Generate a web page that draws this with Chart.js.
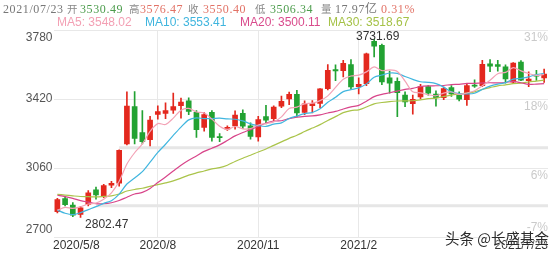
<!DOCTYPE html>
<html>
<head>
<meta charset="utf-8">
<script src="https://cdn.jsdelivr.net/npm/chart.js@4/dist/chart.umd.min.js"></script>
<style>
  body { margin: 0; background: #fff; }
  #wrap { position: relative; width: 554px; height: 254px; overflow: hidden; }
  #chart { position: absolute; left: 0; top: 0; }
  .t { position: absolute; white-space: nowrap; }
  .l1 { top: 1.5px; font-family: 'Liberation Serif', 'Noto Sans CJK SC', serif; font-size: 12px; line-height: 14px; color: #777; letter-spacing: 0.6px; }
  .l1.cn { font-family: 'Noto Sans CJK SC', sans-serif; font-size: 10.5px; letter-spacing: 0; top: 2px; color: #888; }
  .l2 { top: 15px; font-family: 'Liberation Sans', Arial, sans-serif; font-size: 12px; line-height: 14px; }
  .up { color: #e27266; }
  .dn { color: #4c9c4c; }
  #mark { left: 445px; top: 229px; font-family: 'Noto Sans CJK SC', sans-serif; font-size: 14.5px; line-height: 18px; color: #2a2a2a;
          text-shadow: 0 0 2px #fff, 0 0 2px #fff; }
</style>
</head>
<body>
<div id="wrap">
  <canvas id="chart" width="554" height="254"></canvas>

  <span class="t l1" style="left:3px">2021/07/23</span>
  <span class="t l1 cn" style="left:67px">开</span>
  <span class="t l1 dn" style="left:80px">3530.49</span>
  <span class="t l1 cn" style="left:129px">高</span>
  <span class="t l1 up" style="left:140px">3576.47</span>
  <span class="t l1 cn" style="left:188px">收</span>
  <span class="t l1 up" style="left:203px">3550.40</span>
  <span class="t l1 cn" style="left:255px">低</span>
  <span class="t l1 dn" style="left:270px">3506.34</span>
  <span class="t l1 cn" style="left:321px">量</span>
  <span class="t l1" style="left:335px">17.97亿</span>
  <span class="t l1 up" style="left:381px">0.31%</span>

  <span class="t l2" style="left:57px;color:#f3a0b4">MA5: 3548.02</span>
  <span class="t l2" style="left:145px;color:#3fb5de">MA10: 3553.41</span>
  <span class="t l2" style="left:240px;color:#d94b8c">MA20: 3500.11</span>
  <span class="t l2" style="left:328px;color:#a5c247">MA30: 3518.67</span>

  <span class="t" id="mark">头条 @长盛基金</span>
</div>
<script>
// weekly candles, 2020/5/8 - 2021/7/23
const weeks = [
  '2020/5/8', '2020/5/15', '2020/5/22', '2020/5/29', '2020/6/5', '2020/6/12', '2020/6/19', '2020/6/24',
  '2020/7/3', '2020/7/10', '2020/7/17', '2020/7/24', '2020/7/31', '2020/8/7', '2020/8/14', '2020/8/21',
  '2020/8/28', '2020/9/4', '2020/9/11', '2020/9/18', '2020/9/25', '2020/9/30', '2020/10/9', '2020/10/16',
  '2020/10/23', '2020/10/30', '2020/11/6', '2020/11/13', '2020/11/20', '2020/11/27', '2020/12/4', '2020/12/11',
  '2020/12/18', '2020/12/25', '2020/12/31', '2021/1/8', '2021/1/15', '2021/1/22', '2021/1/29', '2021/2/5',
  '2021/2/10', '2021/2/19', '2021/2/26', '2021/3/5', '2021/3/12', '2021/3/19', '2021/3/26', '2021/4/2',
  '2021/4/9', '2021/4/16', '2021/4/23', '2021/4/30', '2021/5/7', '2021/5/14', '2021/5/21', '2021/5/28',
  '2021/6/4', '2021/6/11', '2021/6/18', '2021/6/25', '2021/7/2', '2021/7/9', '2021/7/16', '2021/7/23'
];

const opens = [
  2832, 2900, 2866, 2818, 2870, 2946, 2914, 2970, 2981, 3186, 3380, 3245, 3208, 3340, 3345, 3362,
  3385, 3410, 3350, 3272, 3350, 3224, 3262, 3280, 3345, 3280, 3222, 3328, 3318, 3383, 3420, 3445,
  3350, 3385, 3397, 3474, 3574, 3568, 3600, 3484, 3500, 3721, 3700, 3530, 3512, 3440, 3396, 3431,
  3485, 3446, 3427, 3480, 3440, 3416, 3492, 3490, 3603, 3600, 3588, 3508, 3612, 3516, 3545, 3530.49
];
const highs = [
  2902, 2912, 2880, 2860, 2942, 2960, 2975, 2990, 3155, 3456.97, 3458.79, 3360, 3330, 3385, 3400, 3451,
  3425, 3426, 3360, 3350, 3360, 3240, 3280, 3358, 3364, 3296, 3330, 3387, 3385, 3435, 3456, 3465,
  3410, 3412, 3474, 3600, 3598, 3622, 3626, 3530, 3660, 3731.69, 3706, 3566, 3530, 3458, 3440, 3496,
  3490, 3462, 3482, 3490, 3458, 3500, 3520, 3622, 3626, 3622, 3598, 3610, 3620, 3562, 3570, 3576.47
];
const lows = [
  2826, 2862, 2806, 2802.47, 2862, 2897, 2905, 2958, 2965, 3180, 3185, 3185, 3175, 3315, 3318, 3345,
  3320, 3338, 3220, 3252, 3200, 3198, 3256, 3262, 3265, 3210, 3200, 3290, 3306, 3375, 3390, 3326,
  3338, 3347, 3375, 3468, 3516, 3535, 3470, 3446, 3490, 3640, 3495, 3451, 3328, 3380, 3341, 3420,
  3440, 3383, 3417, 3434, 3410, 3387, 3480, 3484, 3562, 3565, 3502, 3500, 3515, 3484, 3517, 3506.34
];
const closes = [
  2895.34, 2868.46, 2813.77, 2852.35, 2930.80, 2919.74, 2967.63, 2979.55, 3152.81, 3383.32, 3214.13, 3196.77, 3310.01, 3354.04, 3360.10, 3380.68,
  3403.81, 3355.37, 3260.35, 3338.09, 3219.42, 3218.05, 3272.08, 3336.36, 3278.00, 3224.53, 3312.16, 3310.10, 3377.73, 3408.31, 3444.58, 3347.19,
  3394.90, 3396.56, 3473.07, 3570.11, 3566.38, 3606.75, 3483.07, 3496.33, 3655.09, 3696.17, 3509.08, 3501.99, 3453.08, 3404.66, 3418.33, 3484.39,
  3450.68, 3426.62, 3474.17, 3446.86, 3418.87, 3490.38, 3486.56, 3600.78, 3591.84, 3589.75, 3525.10, 3607.56, 3518.76, 3524.09, 3539.30, 3550.40
];

const ma5 = [
  2840.0, 2854.2, 2849.2, 2857.8, 2872.0, 2877.0, 2897.0, 2930.2, 2990.4, 3080.8, 3139.6, 3185.4, 3251.4, 3291.6, 3287.0, 3320.4,
  3361.8, 3370.8, 3352.0, 3347.6, 3315.2, 3278.0, 3261.4, 3276.6, 3264.6, 3265.8, 3284.6, 3292.2, 3300.6, 3326.6, 3370.6, 3377.6,
  3394.6, 3398.4, 3411.4, 3436.4, 3480.2, 3522.6, 3539.8, 3544.4, 3561.4, 3587.4, 3567.8, 3571.6, 3563.0, 3513.0, 3457.4, 3452.4,
  3442.2, 3437.0, 3450.8, 3456.6, 3443.6, 3451.4, 3463.4, 3488.8, 3517.8, 3552.0, 3559.0, 3583.2, 3566.8, 3553.2, 3543.0, 3548.0
];
const ma10 = [
  2840.4, 2823.7, 2816.4, 2827.0, 2842.9, 2858.5, 2875.6, 2889.7, 2924.1, 2976.4, 3008.3, 3041.2, 3090.8, 3141.0, 3183.9, 3230.0,
  3273.6, 3311.1, 3321.8, 3317.3, 3317.8, 3319.9, 3316.1, 3314.3, 3306.1, 3290.5, 3281.3, 3276.8, 3288.6, 3295.6, 3318.2, 3331.1,
  3343.4, 3349.5, 3369.0, 3403.5, 3428.9, 3458.6, 3469.1, 3477.9, 3498.9, 3533.8, 3545.2, 3555.7, 3553.7, 3537.2, 3522.4, 3510.1,
  3506.9, 3500.0, 3481.9, 3457.0, 3448.0, 3446.8, 3450.2, 3469.8, 3487.2, 3497.8, 3505.2, 3523.3, 3527.8, 3535.5, 3547.5, 3553.4
];
const ma20 = [
  2917.8, 2911.0, 2901.4, 2889.8, 2881.8, 2874.0, 2873.5, 2878.7, 2890.5, 2907.7, 2924.4, 2932.5, 2953.6, 2984.0, 3013.4, 3044.3,
  3074.6, 3100.4, 3123.0, 3146.9, 3163.1, 3180.6, 3203.5, 3227.7, 3245.0, 3260.3, 3277.5, 3294.0, 3305.2, 3306.5, 3318.0, 3325.5,
  3329.8, 3331.9, 3337.6, 3347.0, 3355.1, 3367.7, 3378.9, 3386.8, 3408.6, 3432.5, 3444.3, 3452.6, 3461.4, 3470.4, 3475.7, 3484.4,
  3488.0, 3489.0, 3490.4, 3495.4, 3496.6, 3501.3, 3502.0, 3503.5, 3504.8, 3504.0, 3506.1, 3511.7, 3504.9, 3496.3, 3497.8, 3500.1
];
const ma30 = [
  2922.4, 2918.9, 2914.8, 2911.3, 2910.4, 2909.0, 2911.5, 2914.7, 2924.1, 2939.8, 2948.0, 2954.4, 2964.5, 2973.5, 2982.5, 2992.6,
  3006.9, 3022.8, 3034.3, 3044.2, 3055.5, 3061.6, 3074.4, 3094.1, 3111.0, 3126.3, 3143.5, 3159.2, 3178.2, 3196.4, 3214.8, 3230.7,
  3250.1, 3268.3, 3286.3, 3308.0, 3327.9, 3348.8, 3359.8, 3363.6, 3378.3, 3394.9, 3401.6, 3406.5, 3409.6, 3410.4, 3410.9, 3415.2,
  3421.5, 3424.5, 3433.0, 3440.6, 3445.5, 3450.7, 3457.6, 3470.2, 3479.5, 3488.8, 3493.7, 3500.4, 3502.9, 3508.8, 3513.6, 3518.7
];

const yTicks = [2700, 3060, 3420, 3780];
const pctLabels = ['-7%', '6%', '18%', '31%'];
const xTickWeeks = ['2020/5/8', '2020/8/7', '2020/11/6', '2021/2/5', '2021/7/23'];
const xTickLabels = ['2020/5/8', '2020/8', '2020/11', '2021/2', '2021/7/23'];
const bandLevels = [2863, 3166];
const bandFrom = ['2020/6/12', '2020/7/3'];

const UP = '#e3281e';
const DOWN = '#22a232';
const candleColor = (c) => closes[c.dataIndex] >= opens[c.dataIndex] ? UP : DOWN;
const gridIdx = xTickWeeks.slice(1, -1).map(w => weeks.indexOf(w));
const FONT = '12px "Liberation Sans", Arial, sans-serif';

const textPlugin = {
  id: 'texts',
  beforeDatasetsDraw(chart) {
    const { ctx, chartArea: a, scales: { x, y } } = chart;
    ctx.save();
    ctx.strokeStyle = '#e6e6e6';
    ctx.lineWidth = 3;
    bandLevels.forEach((v, i) => {
      const py = y.getPixelForValue(v);
      ctx.beginPath();
      ctx.moveTo(x.getPixelForValue(weeks.indexOf(bandFrom[i])), py);
      ctx.lineTo(a.right, py);
      ctx.stroke();
    });
    ctx.restore();
  },
  afterDraw(chart) {
    const { ctx, chartArea: a, scales: { x, y } } = chart;
    ctx.save();
    ctx.font = FONT;

    // left price labels
    ctx.fillStyle = '#555';
    ctx.textAlign = 'right';
    yTicks.forEach((v, i) => {
      const py = y.getPixelForValue(v);
      if (i === yTicks.length - 1) { ctx.textBaseline = 'top'; ctx.fillText(String(v), a.left - 1, py + 2); }
      else if (i === 0) { ctx.textBaseline = 'bottom'; ctx.fillText(String(v), a.left - 1, py - 1); }
      else { ctx.textBaseline = 'middle'; ctx.fillText(String(v), a.left - 1, py); }
    });

    // right percent labels
    ctx.fillStyle = '#cacaca';
    yTicks.forEach((v, i) => {
      const py = y.getPixelForValue(v);
      if (i === 0) { ctx.textBaseline = 'bottom'; ctx.fillText(pctLabels[i], a.right, py - 3); }
      else { ctx.textBaseline = 'top'; ctx.fillText(pctLabels[i], a.right, py + 2); }
    });

    // date labels
    ctx.fillStyle = '#333';
    ctx.textBaseline = 'middle';
    xTickWeeks.forEach((w, i) => {
      const px = x.getPixelForValue(weeks.indexOf(w));
      if (i === 0) { ctx.textAlign = 'left'; ctx.fillText(xTickLabels[i], a.left - 0.5, a.bottom + 9); }
      else if (i === xTickWeeks.length - 1) { ctx.textAlign = 'right'; ctx.fillText(xTickLabels[i], a.right, a.bottom + 9); }
      else { ctx.textAlign = 'center'; ctx.fillText(xTickLabels[i], px, a.bottom + 9); }
    });

    // extreme markers
    const hi = highs.indexOf(Math.max(...highs));
    const lo = lows.indexOf(Math.min(...lows));
    ctx.fillStyle = '#333';
    ctx.textAlign = 'center';
    ctx.fillText(highs[hi].toFixed(2), x.getPixelForValue(hi) + 3.5, y.getPixelForValue(highs[hi]) - 3);
    ctx.textAlign = 'left';
    ctx.fillText(lows[lo].toFixed(2), x.getPixelForValue(lo) + 4.5, y.getPixelForValue(lows[lo]) + 7.5);
    ctx.restore();
  }
};

const maLine = (label, data, color) => ({
  type: 'line', label, data, borderColor: color, borderWidth: 1.2,
  pointRadius: 0, tension: 0.3, fill: false, order: 0
});

new Chart(document.getElementById('chart'), {
  type: 'bar',
  data: {
    labels: weeks,
    datasets: [
      maLine('MA5', ma5, '#f3a3b6'),
      maLine('MA10', ma10, '#41b6df'),
      maLine('MA20', ma20, '#d8458a'),
      maLine('MA30', ma30, '#aac44a'),
      {
        label: 'body', data: opens.map((o, i) => [o, closes[i]]),
        backgroundColor: candleColor, barThickness: 5, grouped: false, minBarLength: 1, order: 1
      },
      {
        label: 'wick', data: lows.map((l, i) => [l, highs[i]]),
        backgroundColor: candleColor, barThickness: 1, grouped: false, order: 2
      }
    ]
  },
  options: {
    responsive: false,
    animation: false,
    devicePixelRatio: 1,
    layout: { padding: { left: 53.5, right: 6, top: 30, bottom: 17 } },
    plugins: { legend: { display: false }, tooltip: { enabled: false } },
    scales: {
      x: {
        ticks: { display: false },
        border: { display: false },
        grid: {
          offset: false, drawTicks: false,
          color: c => gridIdx.includes(c.index) ? '#e8e8e8' : 'rgba(0,0,0,0)'
        }
      },
      y: {
        min: 2700, max: 3780,
        afterBuildTicks: s => { s.ticks = yTicks.map(v => ({ value: v })); },
        ticks: { display: false },
        border: { display: false },
        grid: { drawTicks: false, color: '#e8e8e8' }
      }
    }
  },
  plugins: [textPlugin]
});
</script>
</body>
</html>
